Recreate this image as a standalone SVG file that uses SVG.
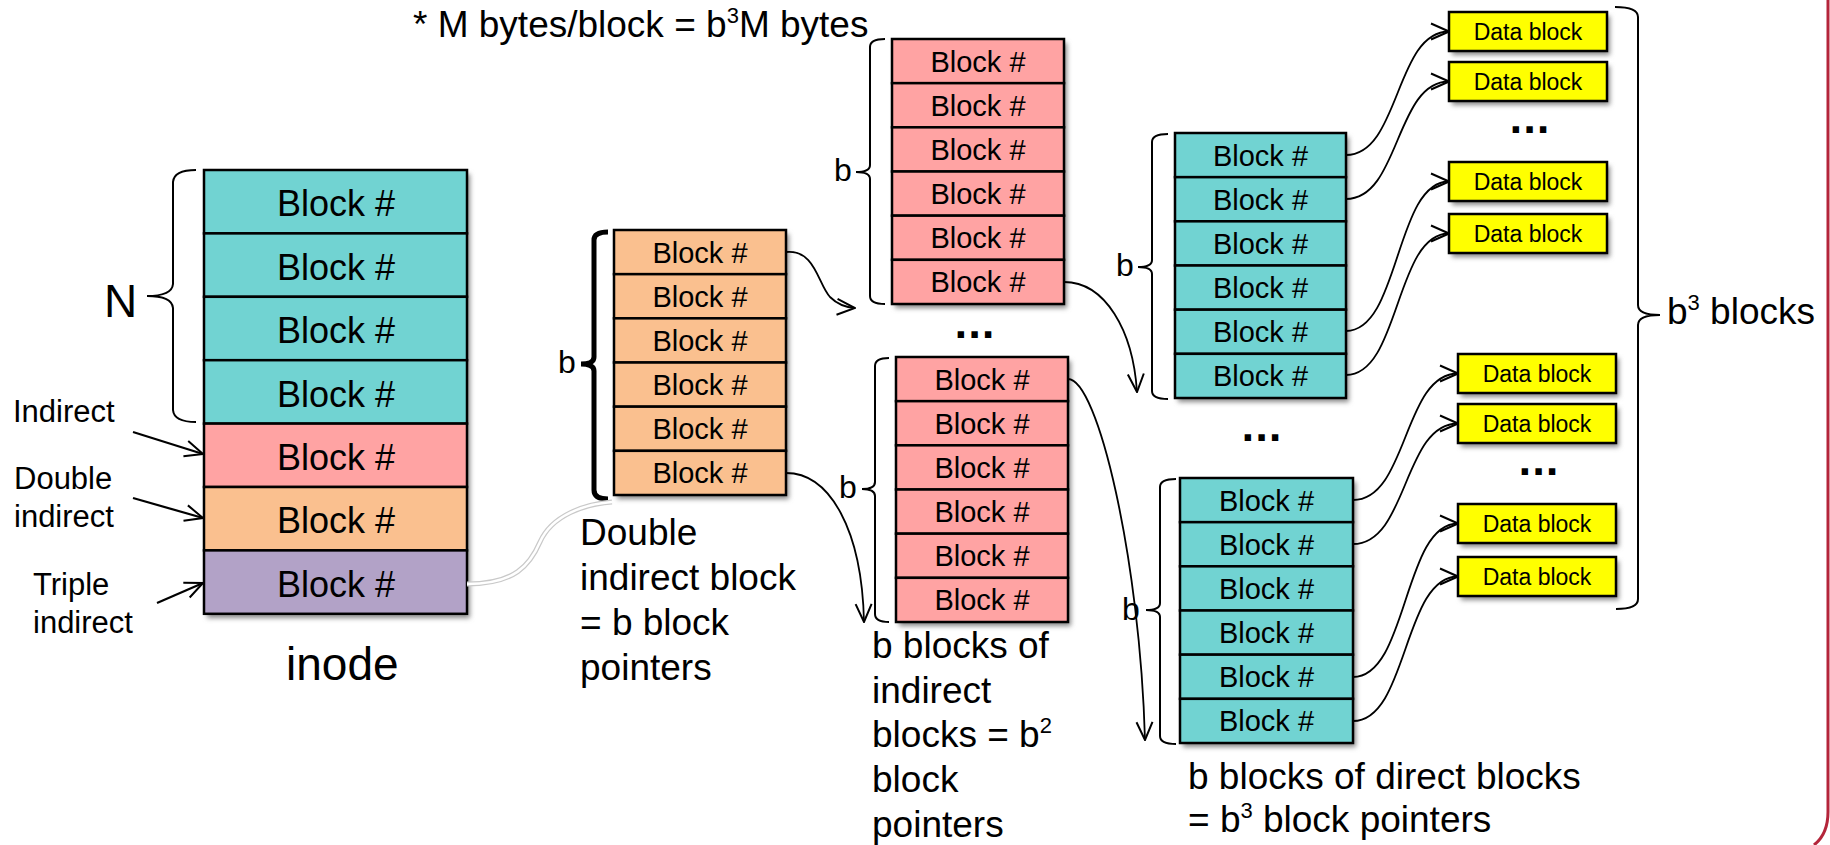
<svg xmlns="http://www.w3.org/2000/svg" width="1830" height="845" viewBox="0 0 1830 845">
<style>
text{font-family:"Liberation Sans",Arial,sans-serif;fill:#000}
.row{stroke:#000;stroke-width:2.5}
.teal{fill:#71d3d2}
.pink{fill:#ffa3a3}
.orange{fill:#fac08f}
.purple{fill:#b2a2c7}
.yellow{fill:#ffff00;stroke:#000;stroke-width:2.5}
.bi{font-size:36px;text-anchor:middle}
.bs{font-size:29px;text-anchor:middle}
.db{font-size:23px;text-anchor:middle}
.lab{font-size:31px}
.big{font-size:37px}
.bl{font-size:32px}
text.dots{font-family:"DejaVu Sans",sans-serif;font-size:36px;font-weight:bold}
.brace{fill:none;stroke:#000;stroke-width:2}
.conn{fill:none;stroke:#000;stroke-width:1.8}
.lbl-arrow{fill:none;stroke:#000;stroke-width:2.2}
.sh{fill:#888;filter:url(#shadow)}
</style>
<defs>
<filter id="shadow" x="-10%" y="-10%" width="130%" height="130%">
<feGaussianBlur stdDeviation="2.5"/>
</filter>
<marker id="arr" viewBox="0 0 20 20" refX="19" refY="10" markerWidth="20" markerHeight="20" markerUnits="userSpaceOnUse" orient="auto">
<path d="M1,2 L19,10 L1,18" fill="none" stroke="#000" stroke-width="2"/>
</marker>
</defs>
<rect width="1830" height="845" fill="#fff"/>

<!-- slide border -->
<path d="M1828,0 L1828,812 Q1828,834 1814,845" fill="none" stroke="#b4253a" stroke-width="3"/>

<text id="title" class="big" x="413" y="37">* M bytes/block = b<tspan dy="-14" font-size="22">3</tspan><tspan dy="14">M bytes</tspan></text>

<!-- inode -->
<g id="inode">
<rect class="sh" x="207" y="174" width="263" height="444"/>
<rect class="row teal" x="204" y="170" width="263" height="63.4"/>
<rect class="row teal" x="204" y="233.4" width="263" height="63.4"/>
<rect class="row teal" x="204" y="296.8" width="263" height="63.4"/>
<rect class="row teal" x="204" y="360.2" width="263" height="63.4"/>
<rect class="row pink" x="204" y="423.6" width="263" height="63.4"/>
<rect class="row orange" x="204" y="487" width="263" height="63.4"/>
<rect class="row purple" x="204" y="550.4" width="263" height="63.4"/>
<text class="bi" x="336" y="216">Block #</text>
<text class="bi" x="336" y="279.5">Block #</text>
<text class="bi" x="336" y="343">Block #</text>
<text class="bi" x="336" y="406.5">Block #</text>
<text class="bi" x="336" y="470">Block #</text>
<text class="bi" x="336" y="533">Block #</text>
<text class="bi" x="336" y="596.5">Block #</text>
<text x="286" y="680" font-size="46">inode</text>
</g>

<g id="n-brace">
<path class="brace" d="M196,170 Q174,170 173,182 L173,284 Q172,296 147,296 Q172,296 173,308 L173,410 Q174,422 196,422"/>
<text x="104" y="317" font-size="46">N</text>
</g>

<g id="labels">
<text class="lab" x="13" y="422">Indirect</text>
<text class="lab" x="14" y="489">Double</text>
<text class="lab" x="14" y="527">indirect</text>
<text class="lab" x="33" y="595">Triple</text>
<text class="lab" x="33" y="633">indirect</text>
</g>

<!-- double indirect block -->
<g id="double-indirect">
<rect class="sh" x="617" y="234" width="172" height="265"/>
<rect class="row orange" x="614" y="230" width="172" height="44.17"/>
<rect class="row orange" x="614" y="274.17" width="172" height="44.17"/>
<rect class="row orange" x="614" y="318.33" width="172" height="44.17"/>
<rect class="row orange" x="614" y="362.5" width="172" height="44.17"/>
<rect class="row orange" x="614" y="406.67" width="172" height="44.17"/>
<rect class="row orange" x="614" y="450.83" width="172" height="44.17"/>
<text class="bs" x="700" y="262.5">Block #</text>
<text class="bs" x="700" y="306.7">Block #</text>
<text class="bs" x="700" y="350.8">Block #</text>
<text class="bs" x="700" y="395">Block #</text>
<text class="bs" x="700" y="439.2">Block #</text>
<text class="bs" x="700" y="483.3">Block #</text>
<path d="M608,232 Q594,232 594,240 L594,357 Q594,364 581,364 Q594,364 594,371 L594,490 Q594,499 608,499" fill="none" stroke="#000" stroke-width="5"/>
<text class="bl" x="558" y="373">b</text>
<text class="big" x="580" y="545">Double</text>
<text class="big" x="580" y="590">indirect block</text>
<text class="big" x="580" y="635">= b block</text>
<text class="big" x="580" y="680">pointers</text>
</g>

<!-- indirect block (top) -->
<g id="indirect-top">
<rect class="sh" x="895" y="43" width="172" height="265"/>
<rect class="row pink" x="892" y="39" width="172" height="44.17"/>
<rect class="row pink" x="892" y="83.17" width="172" height="44.17"/>
<rect class="row pink" x="892" y="127.33" width="172" height="44.17"/>
<rect class="row pink" x="892" y="171.5" width="172" height="44.17"/>
<rect class="row pink" x="892" y="215.67" width="172" height="44.17"/>
<rect class="row pink" x="892" y="259.83" width="172" height="44.17"/>
<text class="bs" x="978" y="71.5">Block #</text>
<text class="bs" x="978" y="115.7">Block #</text>
<text class="bs" x="978" y="159.8">Block #</text>
<text class="bs" x="978" y="204">Block #</text>
<text class="bs" x="978" y="248.2">Block #</text>
<text class="bs" x="978" y="292.3">Block #</text>
<path class="brace" d="M885,39 Q870,39 870,47 L870,165 Q870,172 856,172 Q870,172 870,179 L870,296 Q870,304 885,304"/>
<text class="bl" x="834" y="181">b</text>
</g>

<text class="dots" x="954" y="338">...</text>

<!-- indirect block (bottom) -->
<g id="indirect-bottom">
<rect class="sh" x="899" y="361" width="172" height="265"/>
<rect class="row pink" x="896" y="357" width="172" height="44.17"/>
<rect class="row pink" x="896" y="401.17" width="172" height="44.17"/>
<rect class="row pink" x="896" y="445.33" width="172" height="44.17"/>
<rect class="row pink" x="896" y="489.5" width="172" height="44.17"/>
<rect class="row pink" x="896" y="533.67" width="172" height="44.17"/>
<rect class="row pink" x="896" y="577.83" width="172" height="44.17"/>
<text class="bs" x="982" y="389.5">Block #</text>
<text class="bs" x="982" y="433.7">Block #</text>
<text class="bs" x="982" y="477.8">Block #</text>
<text class="bs" x="982" y="522">Block #</text>
<text class="bs" x="982" y="566.2">Block #</text>
<text class="bs" x="982" y="610.3">Block #</text>
<path class="brace" d="M889,358 Q875,358 875,366 L875,482 Q875,489 862,489 Q875,489 875,496 L875,614 Q875,622 889,622"/>
<text class="bl" x="839" y="498">b</text>
<text class="big" x="872" y="658">b blocks of</text>
<text class="big" x="872" y="703">indirect</text>
<text class="big" x="872" y="747">blocks = b<tspan dy="-14" font-size="22">2</tspan></text>
<text class="big" x="872" y="792">block</text>
<text class="big" x="872" y="837">pointers</text>
</g>

<!-- direct block (top) -->
<g id="direct-top">
<rect class="sh" x="1178" y="137" width="171" height="265"/>
<rect class="row teal" x="1175" y="133" width="171" height="44.17"/>
<rect class="row teal" x="1175" y="177.17" width="171" height="44.17"/>
<rect class="row teal" x="1175" y="221.33" width="171" height="44.17"/>
<rect class="row teal" x="1175" y="265.5" width="171" height="44.17"/>
<rect class="row teal" x="1175" y="309.67" width="171" height="44.17"/>
<rect class="row teal" x="1175" y="353.83" width="171" height="44.17"/>
<text class="bs" x="1260.5" y="165.5">Block #</text>
<text class="bs" x="1260.5" y="209.7">Block #</text>
<text class="bs" x="1260.5" y="253.8">Block #</text>
<text class="bs" x="1260.5" y="298">Block #</text>
<text class="bs" x="1260.5" y="342.2">Block #</text>
<text class="bs" x="1260.5" y="386.3">Block #</text>
<path class="brace" d="M1168,134 Q1152,134 1152,142 L1152,260 Q1152,267 1138,267 Q1152,267 1152,274 L1152,391 Q1152,399 1168,399"/>
<text class="bl" x="1116" y="276">b</text>
</g>

<text class="dots" x="1241" y="441">...</text>

<!-- direct block (bottom) -->
<g id="direct-bottom">
<rect class="sh" x="1183" y="482" width="173" height="265"/>
<rect class="row teal" x="1180" y="478" width="173" height="44.17"/>
<rect class="row teal" x="1180" y="522.17" width="173" height="44.17"/>
<rect class="row teal" x="1180" y="566.33" width="173" height="44.17"/>
<rect class="row teal" x="1180" y="610.5" width="173" height="44.17"/>
<rect class="row teal" x="1180" y="654.67" width="173" height="44.17"/>
<rect class="row teal" x="1180" y="698.83" width="173" height="44.17"/>
<text class="bs" x="1266.5" y="510.5">Block #</text>
<text class="bs" x="1266.5" y="554.7">Block #</text>
<text class="bs" x="1266.5" y="598.8">Block #</text>
<text class="bs" x="1266.5" y="643">Block #</text>
<text class="bs" x="1266.5" y="687.2">Block #</text>
<text class="bs" x="1266.5" y="731.3">Block #</text>
<path class="brace" d="M1176,479 Q1160,479 1160,487 L1160,603 Q1160,610 1146,610 Q1160,610 1160,617 L1160,736 Q1160,744 1176,744"/>
<text class="bl" x="1122" y="620">b</text>
<text class="big" x="1188" y="789">b blocks of direct blocks</text>
<text class="big" x="1188" y="832">= b<tspan dy="-14" font-size="22">3</tspan><tspan dy="14"> block pointers</tspan></text>
</g>

<!-- data blocks -->
<g id="data-blocks">
<rect class="sh" x="1452" y="16" width="158" height="39"/>
<rect class="sh" x="1452" y="66" width="158" height="39"/>
<rect class="sh" x="1452" y="166" width="158" height="39"/>
<rect class="sh" x="1452" y="218" width="158" height="39"/>
<rect class="sh" x="1461" y="358" width="158" height="39"/>
<rect class="sh" x="1461" y="408" width="158" height="39"/>
<rect class="sh" x="1461" y="508" width="158" height="39"/>
<rect class="sh" x="1461" y="561" width="158" height="39"/>
<g id="data1"><rect class="yellow" x="1449" y="12" width="158" height="39"/><text class="db" x="1528" y="40">Data block</text></g>
<g id="data2"><rect class="yellow" x="1449" y="62" width="158" height="39"/><text class="db" x="1528" y="90">Data block</text></g>
<g id="data3"><rect class="yellow" x="1449" y="162" width="158" height="39"/><text class="db" x="1528" y="190">Data block</text></g>
<g id="data4"><rect class="yellow" x="1449" y="214" width="158" height="39"/><text class="db" x="1528" y="242">Data block</text></g>
<g id="data5"><rect class="yellow" x="1458" y="354" width="158" height="39"/><text class="db" x="1537" y="382">Data block</text></g>
<g id="data6"><rect class="yellow" x="1458" y="404" width="158" height="39"/><text class="db" x="1537" y="432">Data block</text></g>
<g id="data7"><rect class="yellow" x="1458" y="504" width="158" height="39"/><text class="db" x="1537" y="532">Data block</text></g>
<g id="data8"><rect class="yellow" x="1458" y="557" width="158" height="39"/><text class="db" x="1537" y="585">Data block</text></g>
<text class="dots" x="1509" y="133">...</text>
<text class="dots" x="1518" y="475">...</text>
</g>

<g id="b3-brace">
<path class="brace" d="M1615,7 Q1638,7 1638,17 L1638,305 Q1638,315 1660,315 Q1638,315 1638,325 L1638,599 Q1638,609 1616,609"/>
<text class="big" x="1667" y="324">b<tspan dy="-14" font-size="22">3</tspan><tspan dy="14"> blocks</tspan></text>
</g>

<!-- connectors -->
<g id="connectors">
<path class="lbl-arrow" d="M133,432 L203,454" marker-end="url(#arr)"/>
<path class="lbl-arrow" d="M133,498 L203,518" marker-end="url(#arr)"/>
<path class="lbl-arrow" d="M157,603 L203,583" marker-end="url(#arr)"/>
<path d="M467,584 C515,584 530,565 540,542 C552,515 585,504 612,502" fill="none" stroke="#c9c9c9" stroke-width="5"/>
<path d="M467,584 C515,584 530,565 540,542 C552,515 585,504 612,502" fill="none" stroke="#fff" stroke-width="2.5"/>
<path class="conn" d="M786,252 C815,249 818,284 830,297 Q840,307 855,308" marker-end="url(#arr)"/>
<path class="conn" d="M786,473 C830,473 862,530 864,622" marker-end="url(#arr)"/>
<path class="conn" d="M1064,282 C1105,282 1133,330 1137,392" marker-end="url(#arr)"/>
<path class="conn" d="M1068,379 C1098,379 1140,560 1145,740" marker-end="url(#arr)"/>
<path class="conn" d="M1346,155 C1400,155 1395,31.5 1449,31.5" marker-end="url(#arr)"/>
<path class="conn" d="M1346,199 C1400,199 1395,81.5 1449,81.5" marker-end="url(#arr)"/>
<path class="conn" d="M1346,331 C1400,331 1395,181.5 1449,181.5" marker-end="url(#arr)"/>
<path class="conn" d="M1346,375 C1400,375 1395,233.5 1449,233.5" marker-end="url(#arr)"/>
<path class="conn" d="M1353,500 C1408,500 1403,373.5 1458,373.5" marker-end="url(#arr)"/>
<path class="conn" d="M1353,544 C1408,544 1403,423.5 1458,423.5" marker-end="url(#arr)"/>
<path class="conn" d="M1353,677 C1408,677 1403,523.5 1458,523.5" marker-end="url(#arr)"/>
<path class="conn" d="M1353,721 C1408,721 1403,576.5 1458,576.5" marker-end="url(#arr)"/>
</g>
</svg>
